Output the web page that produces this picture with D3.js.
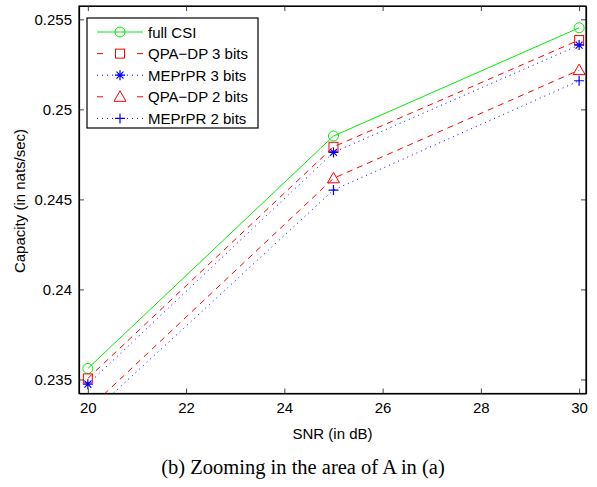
<!DOCTYPE html>
<html>
<head>
<meta charset="utf-8">
<script src="https://cdn.jsdelivr.net/npm/d3@7"></script>
<style>
  body { margin: 0; background: #fff; }
  text { font-family: "Liberation Sans", Arial, sans-serif; }
</style>
</head>
<body>
<div id="chart-container"></div>
<script>
// SNR values (dB)
const snr = [20, 25, 30];
// capacity (nats/sec)
const fullCSI   = [0.23561, 0.24852, 0.25453];
const qpaDp3    = [0.23506, 0.24792, 0.25385];
const meprpr3   = [0.23474, 0.24761, 0.25357];
const qpaDp2    = [0.23333, 0.24617, 0.25218];
const meprpr2   = [0.23293, 0.24552, 0.25159];
const xTicks = [20, 22, 24, 26, 28, 30];
const yTicks = [0.235, 0.24, 0.245, 0.25, 0.255];
const yTickLabels = ["0.235", "0.24", "0.245", "0.25", "0.255"];
const seriesNames = ["full CSI", "QPA\u2212DP 3 bits", "MEPrPR 3 bits", "QPA\u2212DP 2 bits", "MEPrPR 2 bits"];

const w = 597, h = 487;
const plotLeft = 79, plotRight = 586, plotTop = 6, plotBottom = 393.5;

const xScale = d3.scaleLinear().domain([19.82, 30.14]).range([plotLeft, plotRight]);
const yScale = d3.scaleLinear().domain([0.23422, 0.25574]).range([plotBottom, plotTop]);

const series = [
  { name: seriesNames[0], values: fullCSI, color: "#00ee00", dash: null,  marker: "circle" },
  { name: seriesNames[1], values: qpaDp3,  color: "#ff0000", dash: "6,5", marker: "square" },
  { name: seriesNames[2], values: meprpr3, color: "#0000ff", dash: "1,4", marker: "star" },
  { name: seriesNames[3], values: qpaDp2,  color: "#ff0000", dash: "6,5", marker: "triangle" },
  { name: seriesNames[4], values: meprpr2, color: "#0000ff", dash: "1,4", marker: "plus" }
];

const svg = d3.select("#chart-container")
              .append("svg")
              .attr("width", w).attr("height", h);

const defs = svg.append("defs");
defs.append("clipPath").attr("id", "plot-clip")
    .append("rect")
    .attr("x", plotLeft).attr("y", plotTop)
    .attr("width", plotRight - plotLeft).attr("height", plotBottom - plotTop);

// draws one marker at (cx, cy)
function drawMarker(g, type, cx, cy, color) {
  if (type === "circle") {
    g.append("circle").attr("cx", cx).attr("cy", cy).attr("r", 5)
     .attr("fill", "none").attr("stroke", color).attr("stroke-width", 1);
  } else if (type === "square") {
    g.append("rect").attr("x", cx - 4.5).attr("y", cy - 4.5)
     .attr("width", 9).attr("height", 9)
     .attr("fill", "none").attr("stroke", color).attr("stroke-width", 1);
  } else if (type === "triangle") {
    g.append("path")
     .attr("d", "M" + cx + "," + (cy - 6) + "L" + (cx + 6) + "," + (cy + 4.5) + "L" + (cx - 6) + "," + (cy + 4.5) + "Z")
     .attr("fill", "none").attr("stroke", color).attr("stroke-width", 1);
  } else if (type === "plus") {
    g.append("path")
     .attr("d", "M" + (cx - 5) + "," + cy + "H" + (cx + 5) + "M" + cx + "," + (cy - 5) + "V" + (cy + 5))
     .attr("stroke", color).attr("stroke-width", 1.2);
  } else if (type === "star") {
    g.append("path")
     .attr("d", "M" + (cx - 5) + "," + cy + "H" + (cx + 5) + "M" + cx + "," + (cy - 5) + "V" + (cy + 5) +
                "M" + (cx - 3.5) + "," + (cy - 3.5) + "L" + (cx + 3.5) + "," + (cy + 3.5) +
                "M" + (cx - 3.5) + "," + (cy + 3.5) + "L" + (cx + 3.5) + "," + (cy - 3.5))
     .attr("stroke", color).attr("stroke-width", 1.2);
  }
}

// lines
const plot = svg.append("g").attr("clip-path", "url(#plot-clip)");
const line = d3.line().x((d, i) => xScale(snr[i])).y(d => yScale(d));

series.forEach(function(s) {
  plot.append("path")
      .datum(s.values)
      .attr("fill", "none")
      .attr("stroke", s.color)
      .attr("stroke-width", 1)
      .attr("stroke-dasharray", s.dash)
      .attr("d", line);
});
series.forEach(function(s) {
  s.values.forEach(function(v, i) {
    drawMarker(plot, s.marker, xScale(snr[i]), yScale(v), s.color);
  });
});

// axes (MATLAB style box with inward ticks)
const xAxis = d3.axisBottom(xScale).tickValues(xTicks).tickSizeInner(-5).tickSizeOuter(0).tickPadding(9);
const yAxis = d3.axisLeft(yScale).tickValues(yTicks).tickFormat((d, i) => yTickLabels[i])
                .tickSizeInner(-5).tickSizeOuter(0).tickPadding(7);

svg.append("g").attr("id", "x-axis")
   .attr("transform", "translate(0," + plotBottom + ")")
   .call(xAxis);
svg.append("g").attr("id", "y-axis")
   .attr("transform", "translate(" + plotLeft + ",0)")
   .call(yAxis);
svg.append("g")
   .attr("transform", "translate(0," + plotTop + ")")
   .call(d3.axisTop(xScale).tickValues(xTicks).tickSizeInner(-5).tickSizeOuter(0).tickFormat(""));
svg.append("g")
   .attr("transform", "translate(" + plotRight + ",0)")
   .call(d3.axisRight(yScale).tickValues(yTicks).tickSizeInner(-5).tickSizeOuter(0).tickFormat(""));

svg.selectAll(".domain").attr("stroke", "#000").attr("stroke-width", 1.2);
svg.selectAll(".tick line").attr("stroke", "#444");
svg.selectAll(".tick text").style("font-size", "15px").attr("fill", "#000")
   .style("font-family", "'Liberation Sans', Arial, sans-serif");

// box
svg.append("rect")
   .attr("x", plotLeft).attr("y", plotTop)
   .attr("width", plotRight - plotLeft).attr("height", plotBottom - plotTop)
   .attr("fill", "none").attr("stroke", "#000").attr("stroke-width", 1.2);

// axis labels
svg.append("text")
   .attr("text-anchor", "middle")
   .attr("x", (plotLeft + plotRight) / 2)
   .attr("y", 439)
   .style("font-size", "15px")
   .text("SNR (in dB)");

svg.append("text")
   .attr("text-anchor", "middle")
   .attr("transform", "rotate(-90)")
   .attr("x", -201)
   .attr("y", 25)
   .style("font-size", "15px")
   .text("Capacity (in nats/sec)");

// caption
svg.append("text")
   .attr("text-anchor", "middle")
   .attr("x", 303)
   .attr("y", 474)
   .style("font-family", "'Liberation Serif', 'Times New Roman', serif")
   .style("font-size", "20.5px")
   .text("(b) Zooming in the area of A in (a)");

// legend
const legend = svg.append("g");
legend.append("rect")
      .attr("x", 87).attr("y", 18)
      .attr("width", 171).attr("height", 110)
      .attr("fill", "#fff").attr("stroke", "#000").attr("stroke-width", 1.2);

series.forEach(function(s, i) {
  const ly = 32 + i * 21.6;
  legend.append("line")
        .attr("x1", 97).attr("x2", 143).attr("y1", ly).attr("y2", ly)
        .attr("stroke", s.color).attr("stroke-width", 1)
        .attr("stroke-dasharray", s.dash === "6,5" ? "6,34" : s.dash);
  drawMarker(legend, s.marker, 120, ly, s.color);
  legend.append("text")
        .attr("x", 148).attr("y", ly + 5.5)
        .style("font-size", "15px")
        .text(s.name);
});
</script>
</body>
</html>
